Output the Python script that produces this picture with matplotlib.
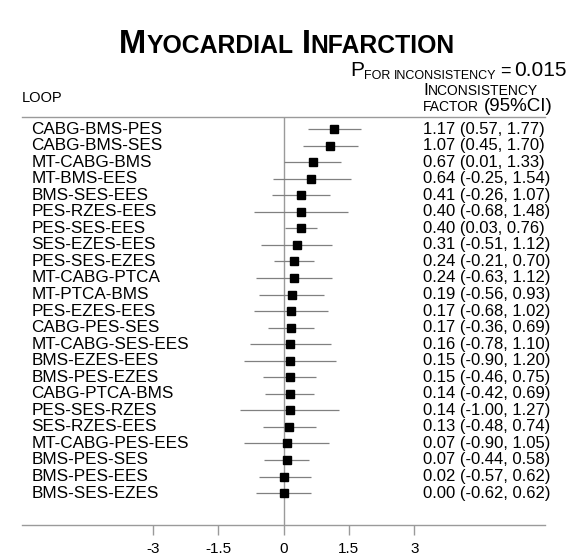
import matplotlib
matplotlib.use("Agg")
import matplotlib.pyplot as plt

plt.rcParams["font.family"] = ["Liberation Sans", "DejaVu Sans"]

loops = ["CABG-BMS-PES", "CABG-BMS-SES", "MT-CABG-BMS", "MT-BMS-EES", "BMS-SES-EES",
         "PES-RZES-EES", "PES-SES-EES", "SES-EZES-EES", "PES-SES-EZES", "MT-CABG-PTCA",
         "MT-PTCA-BMS", "PES-EZES-EES", "CABG-PES-SES", "MT-CABG-SES-EES", "BMS-EZES-EES",
         "BMS-PES-EZES", "CABG-PTCA-BMS", "PES-SES-RZES", "SES-RZES-EES", "MT-CABG-PES-EES",
         "BMS-PES-SES", "BMS-PES-EES", "BMS-SES-EZES"]
ifactor = [1.17, 1.07, 0.67, 0.64, 0.41, 0.40, 0.40, 0.31, 0.24, 0.24, 0.19, 0.17, 0.17,
           0.16, 0.15, 0.15, 0.14, 0.14, 0.13, 0.07, 0.07, 0.02, 0.00]
ci_low = [0.57, 0.45, 0.01, -0.25, -0.26, -0.68, 0.03, -0.51, -0.21, -0.63, -0.56, -0.68,
          -0.36, -0.78, -0.90, -0.46, -0.42, -1.00, -0.48, -0.90, -0.44, -0.57, -0.62]
ci_high = [1.77, 1.70, 1.33, 1.54, 1.07, 1.48, 0.76, 1.12, 0.70, 1.12, 0.93, 1.02,
           0.69, 1.10, 1.20, 0.75, 0.69, 1.27, 0.74, 1.05, 0.58, 0.62, 0.62]
xticks = [-3, -1.5, 0, 1.5, 3]
xtick_labels = ["-3", "-1.5", "0", "1.5", "3"]

W, H = 575, 560
fig = plt.figure(figsize=(W / 100, H / 100), dpi=100)
renderer = fig.canvas.get_renderer()

# axes in pixel box: x 22..545, y 117..525
ax = fig.add_axes([22 / W, 1 - 525 / H, (545 - 22) / W, (525 - 117) / H])
n = len(loops)
rows = list(range(n))
ax.set_xlim(-6, 6)
ax.set_ylim(n - 1 + 1.93, -0.73)

grey = "#9a9a9a"
for s in ["left", "right"]:
    ax.spines[s].set_visible(False)
for s in ["top", "bottom"]:
    ax.spines[s].set_color(grey)
    ax.spines[s].set_linewidth(1)
ax.axvline(0, color=grey, lw=1, zorder=1)
ax.hlines(rows, ci_low, ci_high, color="#808080", lw=0.9, zorder=2)
ax.plot(ifactor, rows, "s", color="black", markersize=5.5, zorder=3)

ax.set_yticks([])
ax.set_xticks(xticks)
ax.set_xticklabels(xtick_labels, fontsize=11)
ax.tick_params(axis="x", color=grey, length=7, width=1, pad=5)

for i in rows:
    ax.text(-5.79, i, loops[i], fontsize=12.3, va="center", ha="left")
    ax.text(3.2, i, "%.2f (%.2f, %.2f)" % (ifactor[i], ci_low[i], ci_high[i]),
            fontsize=12, va="center", ha="left")


def run_text(x, y, parts, ha="left", weight="normal"):
    # parts: (text, fontsize, baseline shift px); text None -> gap in px
    objs = []
    cur = x
    for s, size, dy in parts:
        if s is None:
            cur += size
            continue
        t = fig.text(cur / W, 1 - (y + dy) / H, s, fontsize=size, va="baseline",
                     ha="left", fontweight=weight)
        cur += t.get_window_extent(renderer).width
        objs.append(t)
    if ha != "left":
        shift = (cur - x) if ha == "right" else (cur - x) / 2
        for t in objs:
            px, py = t.get_position()
            t.set_position((px - shift / W, py))


big, small = 23.5, 17.8
run_text(287, 53, [("M", big, 0), ("YOCARDIAL", small, 0), (None, 8, 0),
                   ("I", big, 0), ("NFARCTION", small, 0)], ha="center", weight="bold")

run_text(567, 76, [("P", 15, 0), ("FOR", 9, 3), (None, 3, 0), ("INCONSISTENCY", 9, 3),
                   (None, 4, 0), ("=", 13, 0), (None, 4, 0), ("0.015", 15, 0)], ha="right")

run_text(22, 102, [("LOOP", 10.5, 0)])
run_text(423, 95, [("I", 12.5, 0), ("NCONSISTENCY", 10, 0)])
run_text(423, 111, [("FACTOR", 10, 0), (None, 5, 0), ("(95%CI)", 13.5, 0)])

fig.savefig("out.png", dpi=100)
